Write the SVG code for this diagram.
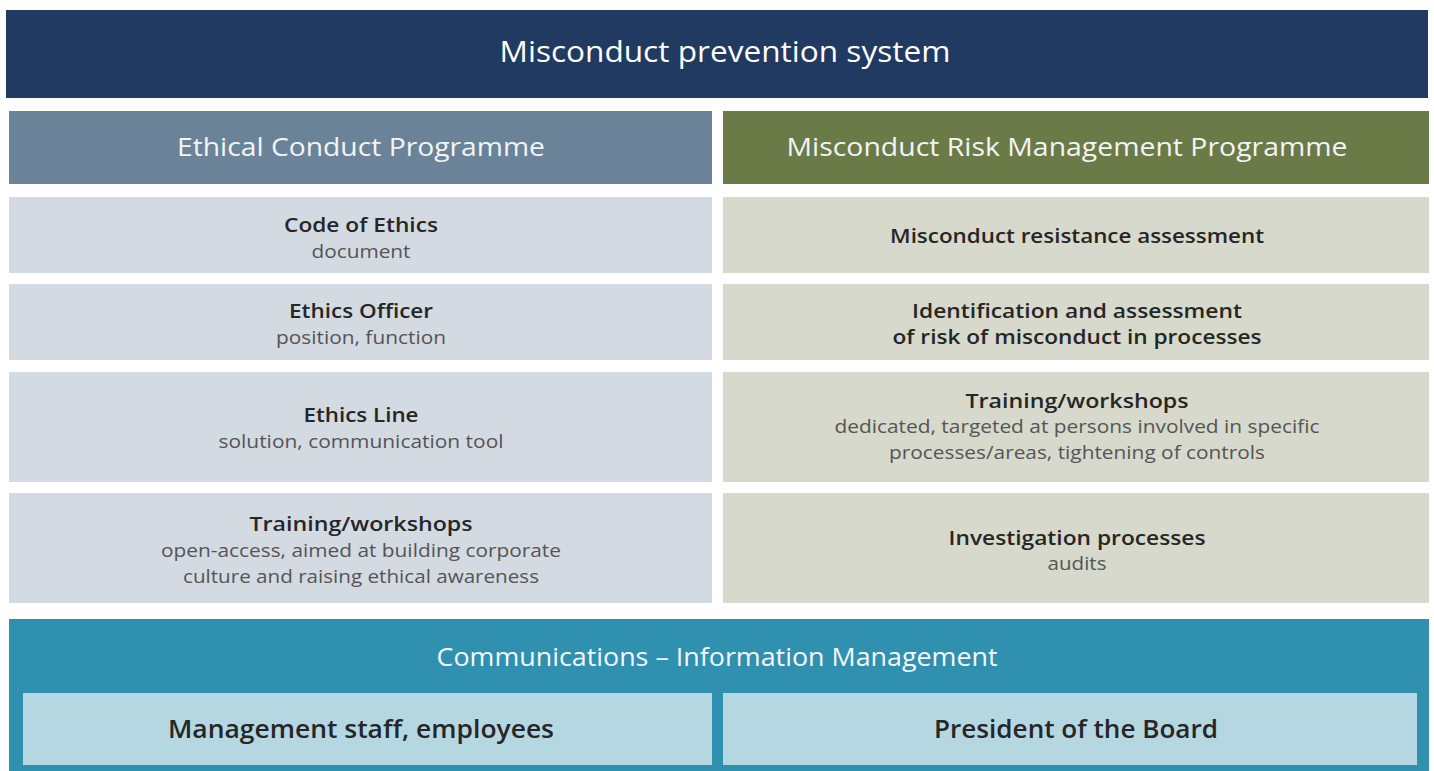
<svg xmlns="http://www.w3.org/2000/svg" width="1434" height="771" viewBox="0 0 1434 771">
  <style>
    text { font-family: "Open Sans", "Noto Sans", "DejaVu Sans", sans-serif; text-anchor: middle; }
    .title { fill: #ffffff; font-size: 29px; }
    .head { fill: #f2f4f6; font-size: 25px; }
    .b { fill: #262626; font-size: 20px; font-weight: 600; }
    .s { fill: #555555; font-size: 18.5px; }
    .big { fill: #262626; font-size: 25px; font-weight: 600; }
    .comm { fill: #f4f8fa; font-size: 25px; }
  </style>
  <rect width="1434" height="771" fill="#ffffff"/>

  <g id="system">
    <rect x="6" y="10" width="1422" height="88" fill="#213a62"/>
    <text class="title" x="725" y="62" textLength="451" lengthAdjust="spacingAndGlyphs">Misconduct prevention system</text>
  </g>

  <g id="ethical-programme">
    <rect x="9" y="111" width="703" height="73" fill="#6a8399"/>
    <text class="head" x="361" y="156" textLength="368" lengthAdjust="spacingAndGlyphs">Ethical Conduct Programme</text>
  </g>
  <g id="risk-programme">
    <rect x="723" y="111" width="706" height="73" fill="#6b7b48"/>
    <text class="head" x="1067" y="156" textLength="561" lengthAdjust="spacingAndGlyphs">Misconduct Risk Management Programme</text>
  </g>

  <g id="code-of-ethics">
    <rect x="9" y="197" width="703" height="76" fill="#d3dae2"/>
    <text class="b" x="361" y="232" textLength="154" lengthAdjust="spacingAndGlyphs">Code of Ethics</text>
    <text class="s" x="361" y="258" textLength="99" lengthAdjust="spacingAndGlyphs">document</text>
  </g>
  <g id="ethics-officer">
    <rect x="9" y="284" width="703" height="76" fill="#d3dae2"/>
    <text class="b" x="361" y="318" textLength="144" lengthAdjust="spacingAndGlyphs">Ethics Officer</text>
    <text class="s" x="361" y="344" textLength="170" lengthAdjust="spacingAndGlyphs">position, function</text>
  </g>
  <g id="ethics-line">
    <rect x="9" y="372" width="703" height="110" fill="#d3dae2"/>
    <text class="b" x="361" y="422" textLength="115" lengthAdjust="spacingAndGlyphs">Ethics Line</text>
    <text class="s" x="361" y="448" textLength="285" lengthAdjust="spacingAndGlyphs">solution, communication tool</text>
  </g>
  <g id="training-open">
    <rect x="9" y="493" width="703" height="110" fill="#d3dae2"/>
    <text class="b" x="361" y="531" textLength="223" lengthAdjust="spacingAndGlyphs">Training/workshops</text>
    <text class="s" x="361" y="557" textLength="400" lengthAdjust="spacingAndGlyphs">open-access, aimed at building corporate</text>
    <text class="s" x="361" y="583" textLength="356" lengthAdjust="spacingAndGlyphs">culture and raising ethical awareness</text>
  </g>

  <g id="resistance-assessment">
    <rect x="723" y="197" width="706" height="76" fill="#d6d9cb"/>
    <text class="b" x="1077" y="243" textLength="374" lengthAdjust="spacingAndGlyphs">Misconduct resistance assessment</text>
  </g>
  <g id="risk-identification">
    <rect x="723" y="284" width="706" height="76" fill="#d6d9cb"/>
    <text class="b" x="1077" y="318" textLength="330" lengthAdjust="spacingAndGlyphs">Identification and assessment</text>
    <text class="b" x="1077" y="344" textLength="369" lengthAdjust="spacingAndGlyphs">of risk of misconduct in processes</text>
  </g>
  <g id="training-dedicated">
    <rect x="723" y="372" width="706" height="110" fill="#d6d9cb"/>
    <text class="b" x="1077" y="408" textLength="223" lengthAdjust="spacingAndGlyphs">Training/workshops</text>
    <text class="s" x="1077" y="433" textLength="485" lengthAdjust="spacingAndGlyphs">dedicated, targeted at persons involved in specific</text>
    <text class="s" x="1077" y="459" textLength="376" lengthAdjust="spacingAndGlyphs">processes/areas, tightening of controls</text>
  </g>
  <g id="investigation">
    <rect x="723" y="493" width="706" height="110" fill="#d6d9cb"/>
    <text class="b" x="1077" y="545" textLength="257" lengthAdjust="spacingAndGlyphs">Investigation processes</text>
    <text class="s" x="1077" y="570" textLength="59" lengthAdjust="spacingAndGlyphs">audits</text>
  </g>

  <g id="communications">
    <rect x="9" y="619" width="1420" height="152" fill="#3090b0"/>
    <text class="comm" x="717" y="666" textLength="561" lengthAdjust="spacingAndGlyphs">Communications – Information Management</text>
  </g>
  <g id="management-staff">
    <rect x="23" y="693" width="689" height="72" fill="#b5d7e2"/>
    <text class="big" x="361" y="738" textLength="386" lengthAdjust="spacingAndGlyphs">Management staff, employees</text>
  </g>
  <g id="president">
    <rect x="723" y="693" width="694" height="72" fill="#b5d7e2"/>
    <text class="big" x="1076" y="738" textLength="284" lengthAdjust="spacingAndGlyphs">President of the Board</text>
  </g>

  <g id="connectors"></g>
</svg>
